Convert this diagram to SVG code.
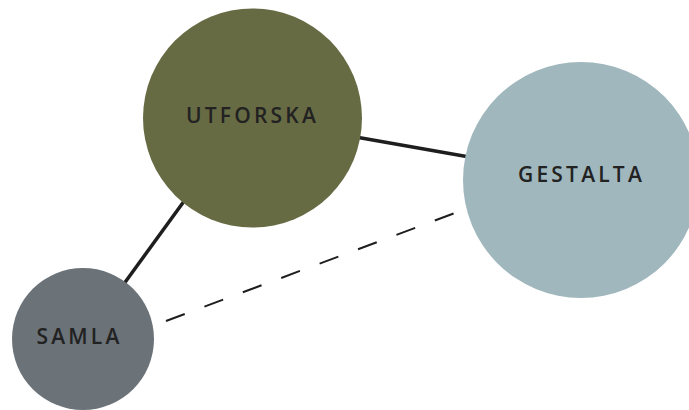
<svg xmlns="http://www.w3.org/2000/svg" width="689" height="410" viewBox="0 0 689 410">
<style>
.lbl{font-family:"Open Sans","Noto Sans","DejaVu Sans",sans-serif;font-size:21px;font-weight:600;fill:#222222;letter-spacing:3.2px;text-anchor:middle}
.solid{stroke:#1e1e1e;stroke-width:3.5;fill:none}
.dash{stroke:#1e1e1e;stroke-width:2;fill:none;stroke-dasharray:20 21}
</style>
<rect width="689" height="410" fill="#ffffff"/>
<g id="connectors">
<line class="solid" x1="190" y1="193" x2="118" y2="292"/>
<line class="solid" x1="350" y1="136" x2="475" y2="158"/>
<line class="dash" x1="166" y1="321" x2="463" y2="210"/>
</g>
<g id="utforska">
<circle cx="252.5" cy="118" r="109.5" fill="#676b44"/>
<text class="lbl" x="252.5" y="123">UTFORSKA</text>
</g>
<g id="gestalta">
<circle cx="581" cy="180" r="118" fill="#a0b7bd"/>
<text class="lbl" x="581.5" y="182">GESTALTA</text>
</g>
<g id="samla">
<circle cx="83" cy="339" r="71" fill="#6b7278"/>
<text class="lbl" x="79.5" y="344">SAMLA</text>
</g>
</svg>
